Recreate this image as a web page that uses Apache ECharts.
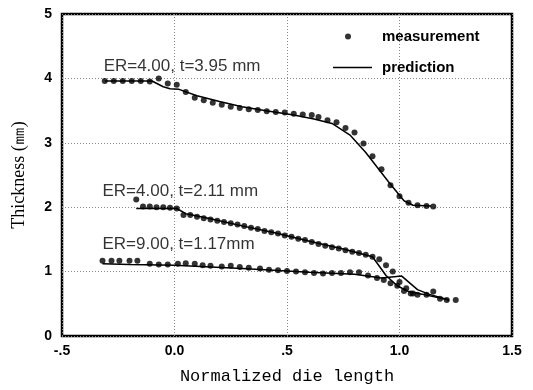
<!DOCTYPE html>
<html>
<head>
<meta charset="utf-8">
<script src="https://cdn.jsdelivr.net/npm/echarts@6/dist/echarts.min.js"></script>
<style>html,body{margin:0;padding:0;background:#fff;}#c{width:533px;height:390px;}</style>
</head>
<body>
<div id="c"></div>
<script>
// ---- data ----
const xTicks = [-0.5, 0.0, 0.5, 1.0, 1.5];
const xTickLabels = ['-.5', '0.0', '.5', '1.0', '1.5'];
const yTickLabels = ['0', '1', '2', '3', '4', '5'];

const caseLabels = ['ER=4.00, t=3.95 mm', 'ER=4.00, t=2.11 mm', 'ER=9.00, t=1.17mm'];
const caseLabelAnchors = [[-0.315, 4.18], [-0.32, 2.25], [-0.32, 1.43]];

const meas395 = [
  [-0.31,3.96],[-0.27,3.96],[-0.23,3.96],[-0.19,3.96],[-0.15,3.96],[-0.11,3.95],[-0.07,4.00],[-0.03,3.92],
  [0.01,3.90],[0.05,3.79],[0.09,3.70],[0.13,3.66],[0.17,3.62],[0.21,3.59],[0.25,3.56],[0.29,3.54],
  [0.33,3.52],[0.37,3.51],[0.41,3.49],[0.45,3.48],[0.49,3.47],[0.53,3.45],[0.57,3.44],[0.61,3.43],
  [0.64,3.40],[0.68,3.35],[0.72,3.32],[0.76,3.23],[0.80,3.16],[0.84,2.99],[0.88,2.79],[0.92,2.59],
  [0.96,2.34],[1.00,2.17],[1.04,2.07],[1.08,2.03],[1.12,2.02],[1.15,2.01]
];
const pred395 = [
  [-0.31,3.96],[-0.10,3.96],[-0.05,3.87],[-0.02,3.84],[0.02,3.83],[0.10,3.73],[0.20,3.64],[0.30,3.56],
  [0.40,3.50],[0.53,3.43],[0.62,3.37],[0.70,3.30],[0.78,3.12],[0.85,2.85],[0.95,2.40],[1.02,2.10],
  [1.06,2.03],[1.14,2.02]
];
const meas211 = [
  [-0.17,2.12],[-0.14,2.01],[-0.11,2.01],[-0.08,2.00],[-0.05,2.00],[-0.02,1.99],[0.01,1.98],[0.04,1.88],
  [0.07,1.88],[0.10,1.85],[0.13,1.83],[0.16,1.81],[0.19,1.79],[0.22,1.77],[0.25,1.75],[0.28,1.73],
  [0.31,1.71],[0.34,1.68],[0.37,1.66],[0.40,1.63],[0.43,1.61],[0.46,1.59],[0.49,1.56],[0.52,1.54],
  [0.55,1.51],[0.58,1.49],[0.61,1.46],[0.64,1.43],[0.67,1.40],[0.70,1.38],[0.73,1.36],[0.76,1.33],
  [0.79,1.31],[0.82,1.29],[0.85,1.26],[0.88,1.23],[0.91,1.19],[0.94,1.10],[0.97,1.00],[1.00,0.84],
  [1.03,0.74],[1.06,0.66]
];
const pred211 = [
  [-0.17,1.98],[0.01,1.98],[0.05,1.90],[0.15,1.83],[0.30,1.71],[0.45,1.60],[0.60,1.47],[0.75,1.35],
  [0.88,1.23],[0.94,0.94],[0.99,0.78],[1.04,0.69],[1.10,0.65],[1.22,0.56]
];
const meas117 = [
  [-0.32,1.17],[-0.28,1.17],[-0.245,1.17],[-0.20,1.17],[-0.165,1.17],[-0.11,1.12],[-0.07,1.11],[-0.03,1.11],
  [0.015,1.12],[0.05,1.13],[0.09,1.12],[0.125,1.10],[0.16,1.09],[0.21,1.08],[0.25,1.09],[0.29,1.07],
  [0.33,1.06],[0.38,1.05],[0.42,1.03],[0.46,1.02],[0.50,1.01],[0.54,1.00],[0.58,0.99],[0.62,0.98],
  [0.66,0.97],[0.70,0.98],[0.74,0.98],[0.78,0.99],[0.82,0.99],[0.86,0.94],[0.90,0.90],[0.93,0.87],
  [0.96,0.82],[0.99,0.78],[1.02,0.70],[1.05,0.66],[1.08,0.64],[1.12,0.64],[1.15,0.69],[1.18,0.58],
  [1.21,0.56],[1.25,0.56]
];
const pred117 = [
  [-0.32,1.12],[-0.20,1.11],[0.00,1.10],[0.30,1.05],[0.60,0.99],[0.80,0.96],[0.92,0.90],[1.01,0.93],
  [1.08,0.72],[1.13,0.65],[1.22,0.56]
];

// ---- chart ----
const chart = echarts.init(document.getElementById('c'), null, {renderer: 'canvas'});
const measStyle = {type: 'scatter', name: 'measurement', symbol: 'circle', symbolSize: 6,
  itemStyle: {color: '#000'}, z: 3};
const predStyle = {type: 'line', name: 'prediction', showSymbol: false, symbol: 'none',
  lineStyle: {color: '#000', width: 1.5}, itemStyle: {color: '#000'}, z: 2};

const option = {
  animation: false,
  backgroundColor: '#fff',
  grid: {left: 62, right: 21, top: 14, bottom: 52, show: true, borderColor: '#000', borderWidth: 2.5},
  legend: [
    {data: [{name: 'measurement', icon: 'circle'}], left: 340, top: 24, itemWidth: 6, itemHeight: 6,
      textStyle: {fontFamily: 'Liberation Sans', fontWeight: 'bold', fontSize: 15, color: '#000', padding: [0,0,0,26]}},
    {data: [{name: 'prediction', icon: 'rect'}], left: 328, top: 55, itemWidth: 39, itemHeight: 1.5,
      textStyle: {fontFamily: 'Liberation Sans', fontWeight: 'bold', fontSize: 15, color: '#000', padding: [0,0,0,5]}}
  ],
  xAxis: {
    type: 'value', min: -0.5, max: 1.5, interval: 0.5,
    name: 'Normalized die length', nameLocation: 'middle', nameGap: 32,
    nameTextStyle: {fontFamily: 'Liberation Mono', fontSize: 17, color: '#000'},
    axisLine: {show: false}, axisTick: {show: false},
    axisLabel: {color: '#000', fontFamily: 'Liberation Sans', fontWeight: 'bold', fontSize: 14, margin: 8,
      formatter: v => { const i = xTicks.findIndex(t => Math.abs(t - v) < 1e-9); return i >= 0 ? xTickLabels[i] : ''; }},
    splitLine: {show: true, lineStyle: {color: '#888', type: [1, 2], width: 1}}
  },
  yAxis: {
    type: 'value', min: 0, max: 5, interval: 1,
    name: 'Thickness (㎜)', nameLocation: 'middle', nameGap: 34, nameRotate: 90,
    nameTextStyle: {fontFamily: 'Liberation Serif', fontSize: 18, color: '#000'},
    axisLine: {show: false}, axisTick: {show: false},
    axisLabel: {color: '#000', fontFamily: 'Liberation Sans', fontWeight: 'bold', fontSize: 14, margin: 10,
      formatter: v => yTickLabels[Math.round(v)] || ''},
    splitLine: {show: true, lineStyle: {color: '#888', type: [1, 2], width: 1}}
  },
  series: [
    Object.assign({data: pred395}, predStyle),
    Object.assign({data: pred211}, predStyle),
    Object.assign({data: pred117}, predStyle),
    Object.assign({data: meas395}, measStyle),
    Object.assign({data: meas211}, measStyle),
    Object.assign({data: meas117}, measStyle),
    {
      type: 'scatter', name: 'labels', symbolSize: 0, silent: true, z: 5,
      data: caseLabelAnchors.map((p, i) => ({value: p, label: {formatter: caseLabels[i]}})),
      label: {show: true, position: 'right', distance: 0, color: '#000',
        fontFamily: 'Liberation Sans', fontSize: 17}
    }
  ]
};
chart.setOption(option);
</script>
</body>
</html>
